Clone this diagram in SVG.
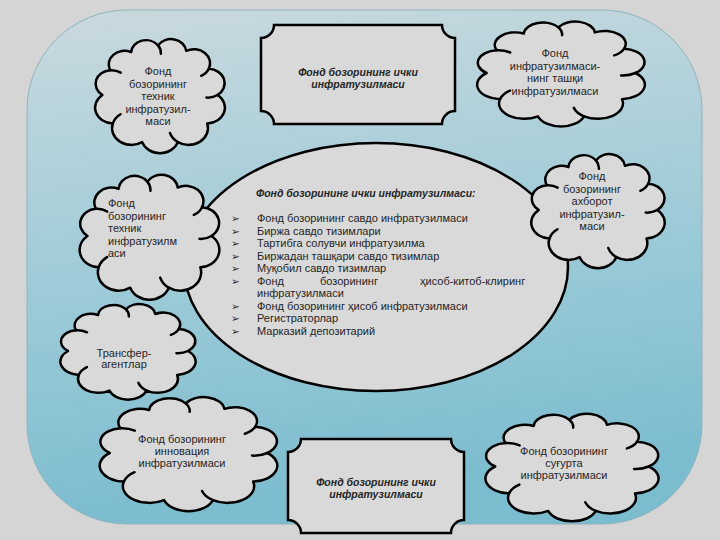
<svg xmlns="http://www.w3.org/2000/svg" xmlns:xlink="http://www.w3.org/1999/xlink" width="720" height="540" viewBox="0 0 720 540">
<style>
.cloud{fill:#d9d9d9;stroke:#000;stroke-width:2.5;vector-effect:non-scaling-stroke;stroke-linejoin:round}
.inner{fill:none;stroke:#000;stroke-width:2.5;vector-effect:non-scaling-stroke;stroke-linecap:round}
.plaque{fill:#d9d9d9;stroke:#000;stroke-width:2.5}
.t{font-family:"Liberation Sans",Arial,sans-serif;font-size:11px;fill:#262626}
.c{text-anchor:middle}
.bi{font-weight:bold;font-style:italic;font-size:10.5px}
.bul{font-family:"DejaVu Sans",sans-serif;font-size:10.5px;font-weight:bold;fill:#262626}
</style>
<defs>
<linearGradient id="panel" x1="0" y1="0" x2="0.15" y2="1">
<stop offset="0" stop-color="#cad9de"/>
<stop offset="0.5" stop-color="#a0ccd8"/>
<stop offset="1" stop-color="#7bbccf"/>
</linearGradient>
<g id="cloudShape">
<path class="cloud" d="M10,50 A11,11 0 0 1 15.4,30 A11,11 0 0 1 30,15.4 A10.3,10.3 0 0 1 48.6,10 A10.6,10.6 0 0 1 68.2,14.4 A11.3,11.3 0 0 1 83.9,28.8 A11.7,11.7 0 0 1 90,50 A12.8,12.8 0 0 1 82.8,73 A13.5,13.5 0 0 1 62.4,88 A13.1,13.1 0 0 1 37.6,88 A13.5,13.5 0 0 1 17.2,73 A12.8,12.8 0 0 1 10,50 Z"/>
<path class="inner" d="M90,50 A11.7,11.7 0 0 1 82.3,52.1 M62.4,88 A13.5,13.5 0 0 1 56.9,80.6 M17.2,73 A13.5,13.5 0 0 1 22.6,65.5 M15.4,30 A11,11 0 0 1 22.7,32 M48.6,10 A10.3,10.3 0 0 1 50.6,16.8 M83.9,28.8 A11.3,11.3 0 0 1 78.6,34.5"/>
</g>
</defs>
<rect x="0" y="0" width="720" height="540" fill="#d5d5d5"/>
<rect x="27" y="10" width="675" height="514" rx="100" ry="100" fill="url(#panel)" stroke="#8fb4be" stroke-width="1"/>

<g id="connectors"></g>

<g id="center-ellipse">
<ellipse cx="376" cy="267" rx="192" ry="124" fill="#d9d9d9" stroke="#000" stroke-width="2.5"/>
<text class="t bi" x="256" y="197">Фонд бозорининг ички инфратузилмаси:</text>
<g class="bul">
<text x="231" y="222">➢</text>
<text x="231" y="234.5">➢</text>
<text x="231" y="247">➢</text>
<text x="231" y="259.5">➢</text>
<text x="231" y="272">➢</text>
<text x="231" y="284.5">➢</text>
<text x="231" y="309.5">➢</text>
<text x="231" y="322">➢</text>
<text x="231" y="334.5">➢</text>
</g>
<text class="t" x="257" y="222">Фонд бозорининг савдо инфратузилмаси</text>
<text class="t" x="257" y="234.5">Биржа савдо тизимлари</text>
<text class="t" x="257" y="247">Тартибга солувчи инфратузилма</text>
<text class="t" x="257" y="259.5">Биржадан ташқари савдо тизимлар</text>
<text class="t" x="257" y="272">Муқобил савдо тизимлар</text>
<text class="t" y="284.5"><tspan x="257">Фонд</tspan><tspan x="320">бозорининг</tspan><tspan x="420">ҳисоб-китоб-клиринг</tspan></text>
<text class="t" x="257" y="297">инфратузилмаси</text>
<text class="t" x="257" y="309.5">Фонд бозорининг ҳисоб инфратузилмаси</text>
<text class="t" x="257" y="322">Регистраторлар</text>
<text class="t" x="257" y="334.5">Марказий депозитарий</text>
</g>

<g id="box-top">
<path class="plaque" d="M274,25 H442 A13,13 0 0 0 455,38 V111 A13,13 0 0 0 442,124 H274 A13,13 0 0 0 261,111 V38 A13,13 0 0 0 274,25 Z"/>
<text class="t c bi" x="358" y="76">Фонд бозорининг ички</text>
<text class="t c bi" x="358" y="88">инфратузилмаси</text>
</g>

<g id="box-bottom">
<path class="plaque" d="M301,439 H451 A13,13 0 0 0 464,452 V520 A13,13 0 0 0 451,533 H301 A13,13 0 0 0 288,520 V452 A13,13 0 0 0 301,439 Z"/>
<text class="t c bi" x="376" y="486">Фонд бозорининг ички</text>
<text class="t c bi" x="376" y="498">инфратузилмаси</text>
</g>

<g id="cloud-technical-top">
<use xlink:href="#cloudShape" transform="translate(88,33) scale(1.44,1.24)"/>
<text class="t c" x="158" y="75">Фонд</text>
<text class="t c" x="158" y="87.5">бозорининг</text>
<text class="t c" x="158" y="100">техник</text>
<text class="t c" x="158" y="112.5">инфратузил-</text>
<text class="t c" x="158" y="125">маси</text>
</g>

<g id="cloud-external">
<use xlink:href="#cloudShape" transform="translate(468,16) scale(1.86,1.14)"/>
<text class="t c" x="555" y="57">Фонд</text>
<text class="t c" x="555" y="69.5">инфратузилмаси-</text>
<text class="t c" x="555" y="82">нинг ташқи</text>
<text class="t c" x="555" y="94.5">инфратузилмаси</text>
</g>

<g id="cloud-technical-left">
<use xlink:href="#cloudShape" transform="translate(72,168) scale(1.55,1.36)"/>
<text class="t" x="108" y="207">Фонд</text>
<text class="t" x="108" y="219.5">бозорининг</text>
<text class="t" x="108" y="232">техник</text>
<text class="t" x="108" y="244.5">инфратузилм</text>
<text class="t" x="108" y="257">аси</text>
</g>

<g id="cloud-information">
<use xlink:href="#cloudShape" transform="translate(524,148) scale(1.48,1.24)"/>
<text class="t c" x="592" y="180">Фонд</text>
<text class="t c" x="592" y="192.5">бозорининг</text>
<text class="t c" x="592" y="205">ахборот</text>
<text class="t c" x="592" y="217.5">инфратузил-</text>
<text class="t c" x="592" y="230">маси</text>
</g>

<g id="cloud-transfer">
<use xlink:href="#cloudShape" transform="translate(53,299) scale(1.5,1.04)"/>
<text class="t c" x="124" y="356.5">Трансфер-</text>
<text class="t c" x="124" y="368">агентлар</text>
</g>

<g id="cloud-innovation">
<use xlink:href="#cloudShape" transform="translate(90,391) scale(1.97,1.24)"/>
<text class="t c" x="182" y="443">Фонд бозорининг</text>
<text class="t c" x="182" y="455">инновация</text>
<text class="t c" x="182" y="467">инфратузилмаси</text>
</g>

<g id="cloud-insurance">
<use xlink:href="#cloudShape" transform="translate(476,408) scale(1.92,1.17)"/>
<text class="t c" x="564" y="455">Фонд бозорининг</text>
<text class="t c" x="564" y="467">суғурта</text>
<text class="t c" x="564" y="479">инфратузилмаси</text>
</g>
</svg>
